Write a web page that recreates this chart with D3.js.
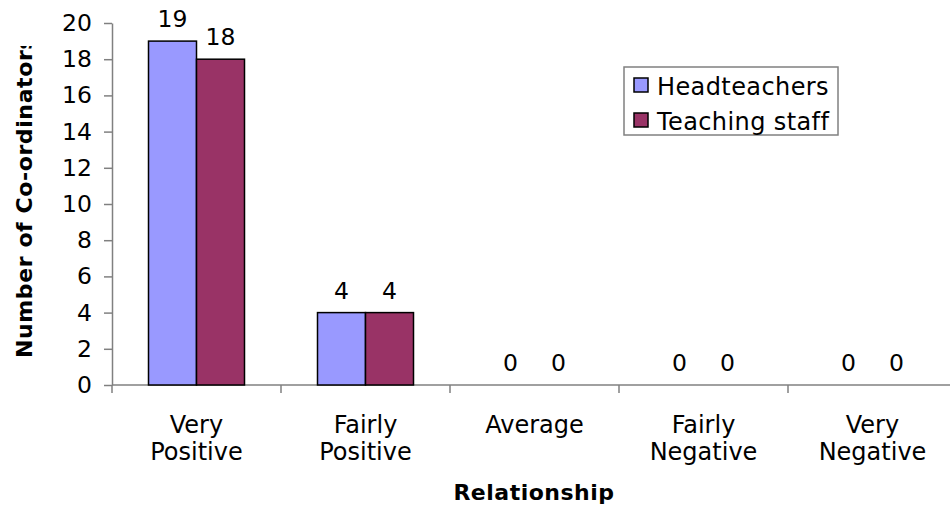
<!DOCTYPE html>
<html><head><meta charset="utf-8">
<script src="https://cdn.jsdelivr.net/npm/d3@7"></script>
<style>body{margin:0;background:#fff}svg{display:block}text{font-family:"DejaVu Sans",Verdana,sans-serif}</style>
</head><body>
<svg id="c" width="950" height="506"></svg>
<script>
const categories = [["Very","Positive"],["Fairly","Positive"],["Average"],["Fairly","Negative"],["Very","Negative"]];
const seriesNames = ["Headteachers","Teaching staff"];
const headteachers = [19,4,0,0,0];
const teachingStaff = [18,4,0,0,0];
const colors = ["#9999FF","#993366"];
const yTicks = [0,2,4,6,8,10,12,14,16,18,20];

const svg = d3.select("#c");
const catKeys = categories.map((c,i)=>i);
const x0 = d3.scaleBand().domain(catKeys).range([112, 957]).padding(0);
const x1 = d3.scaleBand().domain(seriesNames).range([36.5, 132.5]).padding(0);
const y = d3.scaleLinear().domain([0,20]).range([385,23]);
const seriesVals = [headteachers, teachingStaff];

// y axis
const yAxis = svg.append("g").attr("transform","translate(112,0)")
  .call(d3.axisLeft(y).tickValues(yTicks).tickSize(8).tickPadding(12).tickSizeOuter(0));
yAxis.attr("font-size",null).attr("font-family",null);
yAxis.select(".domain").attr("stroke","#808080").attr("stroke-width",1.5);
yAxis.selectAll(".tick line").attr("stroke","#808080").attr("stroke-width",1.5);
yAxis.selectAll(".tick text").style("font-size","23.5px").attr("fill","#000");

// x axis line
svg.append("line").attr("x1",112).attr("x2",950).attr("y1",y(0)).attr("y2",y(0)).attr("stroke","#808080").attr("stroke-width",1.5);
catKeys.forEach(i=>{
  svg.append("line").attr("x1",x0(i)).attr("x2",x0(i)).attr("y1",y(0)).attr("y2",y(0)+8).attr("stroke","#808080").attr("stroke-width",1.5);
});

// bars
seriesNames.forEach((s,si)=>{
  const g = svg.append("g");
  catKeys.forEach(i=>{
    const v = seriesVals[si][i];
    const bx = x0(i)+x1(s);
    if (v>0) {
      g.append("rect").attr("x",bx).attr("y",y(v)).attr("width",x1.bandwidth()).attr("height",y(0)-y(v))
        .attr("fill",colors[si]).attr("stroke","#000").attr("stroke-width",1.5);
    }
    g.append("text").attr("x",bx+x1.bandwidth()/2).attr("y",y(v)-14).attr("text-anchor","middle")
      .style("font-size","23.5px").text(v);
  });
});

// category labels
catKeys.forEach(i=>{
  const t = svg.append("text").attr("x",x0(i)+x0.bandwidth()/2).attr("y",433).attr("text-anchor","middle").style("font-size","24px");
  categories[i].forEach((line,li)=>{
    t.append("tspan").attr("x",x0(i)+x0.bandwidth()/2).attr("dy",li===0?0:27).text(line);
  });
});

// axis titles
svg.append("text").attr("x",534).attr("y",500).attr("text-anchor","middle").style("font-size","22px").style("letter-spacing","0.5px").attr("font-weight","bold").text("Relationship");
svg.append("clipPath").attr("id","yclip").append("rect").attr("x",0).attr("y",46).attr("width",60).attr("height",400);
svg.append("g").attr("clip-path","url(#yclip)").append("text")
  .attr("transform","translate(32,358) rotate(-90)").attr("text-anchor","start").style("font-size","22px").style("letter-spacing","0.6px").attr("font-weight","bold")
  .text("Number of Co-ordinators");

// legend
const lg = svg.append("g");
lg.append("rect").attr("x",624).attr("y",67).attr("width",214).attr("height",68).attr("fill","#fff").attr("stroke","#808080").attr("stroke-width",1.5);
seriesNames.forEach((s,si)=>{
  const yy = 78 + si*35;
  lg.append("rect").attr("x",634).attr("y",yy).attr("width",14).attr("height",14).attr("fill",colors[si]).attr("stroke","#000").attr("stroke-width",1.5);
  lg.append("text").attr("x",657).attr("y",yy+17).style("font-size","24px").style("letter-spacing","0.4px").text(s);
});
</script>
</body></html>
